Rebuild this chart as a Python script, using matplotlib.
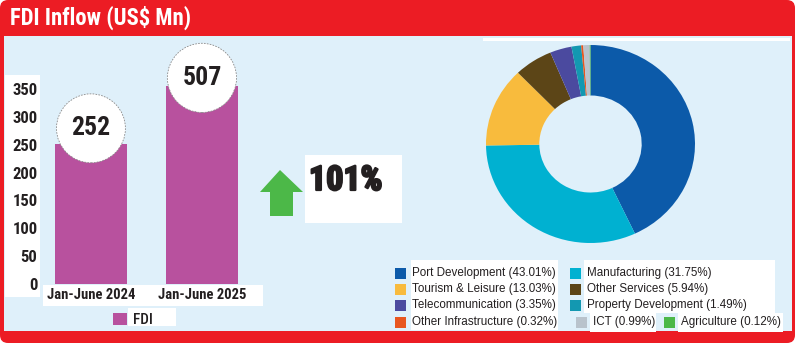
import matplotlib
matplotlib.use('Agg')
import matplotlib.pyplot as plt
import matplotlib.patheffects as pe
import numpy as np
from matplotlib.patches import Rectangle, FancyBboxPatch, Polygon

# bar chart data
periods = ['Jan-June 2024', 'Jan-June 2025']
fdi_values = [252, 507]
yticks = [0, 50, 100, 150, 200, 250, 300, 350]
growth_label = '101%'

# sector split (donut)
sectors = ['Port Development', 'Manufacturing', 'Tourism & Leisure', 'Other Services',
           'Telecommunication', 'Property Development', 'Other Infrastructure', 'ICT',
           'Agriculture']
shares = [43.01, 31.75, 13.03, 5.94, 3.35, 1.49, 0.32, 0.99, 0.12]
sector_colors = ['#0c5aa9', '#00b1d1', '#f8bb3d', '#5c4517', '#4b4a9f', '#1398b1',
                 '#e8561f', '#b9c3cc', '#4cb848']

COND = ['Roboto Condensed', 'DejaVu Sans']
SANS = ['Liberation Sans', 'DejaVu Sans']
RED = '#ec1c24'
BG = '#dff0fa'
BAR = '#b8519e'
INK = '#231f20'

fig = plt.figure(figsize=(8, 3.43), dpi=100)
fig.patch.set_facecolor('white')

# background layer in pixel units (y down)
bg = fig.add_axes([0, 0, 1, 1])
bg.set_xlim(0, 800)
bg.set_ylim(343, 0)
bg.axis('off')
bg.add_patch(FancyBboxPatch((0, 0), 795, 343, boxstyle='round,pad=0,rounding_size=8',
                            fc=RED, ec='none'))
bg.add_patch(Rectangle((4, 36), 788, 295, fc=BG, ec='none'))
bg.add_patch(Rectangle((483, 38), 307, 3, fc='white', ec='none'))
bg.text(10, 18, 'FDI Inflow (US$ Mn)', color='white', fontsize=16.3, fontweight='bold',
        family=COND, va='center', ha='left')

# white label boxes of the bar chart
bg.add_patch(Rectangle((5, 75), 35, 222, fc='white', ec='none'))
bg.add_patch(Rectangle((43, 285), 220, 21, fc='white', ec='none'))
bg.add_patch(Rectangle((128, 308), 48, 18, fc='white', ec='none'))
bg.add_patch(Rectangle((113, 313), 14, 12, fc=BAR, ec='none'))
bg.text(133, 319.5, 'FDI', fontsize=11, fontweight='medium', family=COND, va='center',
        color=INK)

# growth arrow and figure
bg.add_patch(Polygon([(280, 170), (303, 192), (293, 192), (293, 216), (270, 216),
                      (270, 192), (260, 192)], closed=True, fc='#4cb848', ec='none'))
bg.add_patch(Rectangle((305, 155), 97, 68, fc='white', ec='none'))
bg.text(309, 181, growth_label, fontsize=24.5, fontweight='heavy', family=COND,
        va='center', ha='left', color=INK,
        path_effects=[pe.withStroke(linewidth=1.6, foreground=INK)])

# bar chart
ax = fig.add_axes([43 / 800, (343 - 284) / 343, 220 / 800, 195 / 343])
ax.patch.set_alpha(0)
x = np.arange(len(periods))
# the 2025 bar runs off the 0-350 scale and is cut at its top, as in the original
heights = np.minimum(fdi_values, 355)
ax.bar(x, heights, width=0.65, color=BAR, clip_on=False, zorder=2)
ax.set_xlim(-0.432, 1.55)
ax.set_ylim(0, 350)
ax.set_yticks(yticks)
ax.set_yticklabels([str(t) for t in yticks], fontsize=12, fontweight='bold', family=COND,
                   color=INK)
ax.set_xticks(x)
ax.set_xticklabels(periods, fontsize=10.5, fontweight='bold', family=COND, color=INK)
ax.tick_params(length=0)
ax.tick_params(axis='y', pad=4)
ax.tick_params(axis='x', pad=3)
for s in ax.spines.values():
    s.set_visible(False)
for xi, h, v, off in zip(x, heights, fdi_values, [11, 6]):
    ax.annotate(str(v), xy=(xi, h), xytext=(0, off), textcoords='offset points',
                ha='center', va='center', fontsize=18.5, fontweight='bold', family=COND,
                color=INK, annotation_clip=False, zorder=3,
                bbox=dict(boxstyle='circle,pad=0.58', fc='white', ec='#8a8a8a',
                          lw=0.6, ls=(0, (2, 1.5))))

# donut
pax = fig.add_axes([486 / 800, (343 - 243) / 343, 209 / 800, 198 / 343])
pax.pie(shares, colors=sector_colors, startangle=90, counterclock=False,
        wedgeprops=dict(width=0.51, linewidth=0))
pax.set_aspect('auto')
pax.set_xlim(-1, 1)
pax.set_ylim(-1, 1)
pax.axis('off')

# legend (white text panels, then swatches + labels)
for (bx, by, bw, bh) in [(411, 260, 147, 70), (584, 260, 191, 53),
                         (590, 313, 66, 19), (678, 313, 105, 19)]:
    bg.add_patch(Rectangle((bx, by), bw, bh, fc='white', ec='none'))
legend_slots = [(395, 273), (570, 273), (395, 289), (570, 289), (395, 305), (570, 305),
                (395, 322), (576, 322), (664, 322)]
for name, val, col, (lx, ly) in zip(sectors, shares, sector_colors, legend_slots):
    bg.add_patch(Rectangle((lx, ly - 5.5), 11, 11, fc=col, ec='none'))
    bg.text(lx + 17, ly, f'{name} ({val:.2f}%)', fontsize=8.4, family=SANS,
            va='center', ha='left', color=INK)

fig.savefig('out.png', dpi=100)
